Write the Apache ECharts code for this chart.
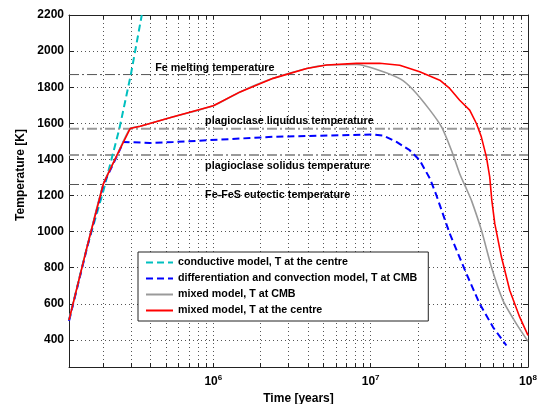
<!DOCTYPE html>
<html>
<head>
<meta charset="utf-8">
<script src="https://cdn.jsdelivr.net/npm/echarts@6/dist/echarts.min.js"></script>
<style>html,body{margin:0;padding:0;background:#fff}#chart{width:539px;height:404px}</style>
</head>
<body>
<div id="chart"></div>
<script>
// ---- data (time in years, temperature in K) ----
var conductiveTime = [1.21e5, 1.57e5, 2.0e5, 2.53e5, 2.99e5, 3.51e5];
var conductiveTemp = [510, 910, 1225, 1571, 1869, 2200];

var diffTime = [1.21e5, 1.57e5, 2.0e5, 2.44e5, 2.68e5, 3.96e5, 5.55e5, 9.08e5, 2.39e6, 6.38e6, 1.04e7, 1.2e7, 1.46e7, 1.77e7, 2.05e7, 2.38e7, 2.62e7, 3.18e7, 4.06e7, 4.93e7, 6.0e7, 7.29e7];
var diffTemp = [505, 905, 1262, 1418, 1497, 1491, 1496, 1506, 1525, 1534, 1538, 1532, 1497, 1451, 1395, 1294, 1200, 989, 767, 600, 470, 369];

var mixedCmbTime = [1.21e5, 1.57e5, 2.0e5, 2.44e5, 2.96e5, 3.43e5, 5.57e5, 1.0e6, 1.48e6, 2.4e6, 3.92e6, 5.25e6, 8.13e6, 1.14e7, 1.55e7, 1.86e7, 2.38e7, 2.82e7, 3.26e7, 3.68e7, 4.1e7, 4.37e7, 5.06e7, 5.86e7, 6.94e7, 8.44e7, 1e8];
var mixedCmbTemp = [510, 910, 1264, 1423, 1571, 1584, 1636, 1697, 1774, 1849, 1904, 1923, 1926, 1893, 1845, 1786, 1673, 1580, 1451, 1321, 1229, 1173, 1007, 803, 618, 489, 392];

var mixedCentreTime = [1.21e5, 1.57e5, 2.0e5, 2.44e5, 2.96e5, 3.43e5, 5.57e5, 1.0e6, 1.48e6, 2.4e6, 3.92e6, 5.25e6, 8.13e6, 1.14e7, 1.53e7, 2.05e7, 2.75e7, 3.18e7, 3.68e7, 4.26e7, 4.7e7, 5.05e7, 5.44e7, 5.71e7, 5.89e7, 6.15e7, 6.78e7, 7.66e7, 8.86e7, 1e8];
var mixedCentreTemp = [510, 910, 1264, 1423, 1571, 1584, 1636, 1697, 1774, 1849, 1904, 1923, 1932, 1933, 1922, 1885, 1839, 1793, 1728, 1673, 1599, 1525, 1414, 1303, 1173, 1044, 859, 674, 526, 425];

var seriesNames = [
  'conductive model, T at the centre',
  'differentiation and convection model, T at CMB',
  'mixed model, T at CMB',
  'mixed model, T at the centre'
];

// reference temperatures and their labels
var refTemps = [1870, 1570, 1425, 1261];
var refLabels = ['Fe melting temperature', 'plagioclase liquidus temperature', 'plagioclase solidus temperature', 'Fe-FeS eutectic temperature'];
var refLabelTime = [4.27e5, 8.86e5, 8.86e5, 8.86e5];
var refLabelTemp = [1909, 1615, 1362, 1201];

// axes
var xMin = 1.21e5, xMax = 1e8;
var yMin = 250, yMax = 2200;
var xMajorTicks = [1e6, 1e7, 1e8];
var xAllTicks = [2e5, 3e5, 4e5, 5e5, 6e5, 7e5, 8e5, 9e5, 1e6, 2e6, 3e6, 4e6, 5e6, 6e6, 7e6, 8e6, 9e6, 1e7, 2e7, 3e7, 4e7, 5e7, 6e7, 7e7, 8e7, 9e7, 1e8];
var yTicks = [400, 600, 800, 1000, 1200, 1400, 1600, 1800, 2000, 2200];

function zip(a, b) { return a.map(function (v, i) { return [v, b[i]]; }); }

var FONT = 'Liberation Sans, Arial, Helvetica, sans-serif';
var chart = echarts.init(document.getElementById('chart'), null, { renderer: 'canvas' });

var series = [];
// reference lines
var refStyles = [
  { color: '#555', width: 1 },
  { color: '#9a9a9a', width: 2 },
  { color: '#9a9a9a', width: 2 },
  { color: '#555', width: 1 }
];
refTemps.forEach(function (t, i) {
  series.push({
    type: 'line', name: 'ref' + i, silent: true, symbol: 'none', z: 1,
    data: [[xMin, t], [xMax, t]],
    lineStyle: { color: refStyles[i].color, width: refStyles[i].width, type: [10, 3, 2, 3] }
  });
});
series.push({
  type: 'scatter', name: 'refLabels', silent: true, symbolSize: 0, z: 5,
  itemStyle: { opacity: 1 },
  data: refLabels.map(function (s, i) { return { name: s, value: [refLabelTime[i], refLabelTemp[i]] }; }),
  label: { show: true, position: 'right', distance: 0, formatter: '{b}', color: '#000', opacity: 1, fontFamily: FONT, fontWeight: 'bold', fontSize: 10.8 }
});
series.push({
  type: 'line', name: seriesNames[0], symbol: 'none', z: 3,
  data: zip(conductiveTime, conductiveTemp),
  lineStyle: { color: '#00BFBF', width: 2, type: [7, 4] }, itemStyle: { color: '#00BFBF' }
});
series.push({
  type: 'line', name: seriesNames[1], symbol: 'none', z: 3,
  data: zip(diffTime, diffTemp),
  lineStyle: { color: '#0000FF', width: 2, type: [7, 4] }, itemStyle: { color: '#0000FF' }
});
series.push({
  type: 'line', name: seriesNames[2], symbol: 'none', z: 3, smooth: 0.2,
  data: zip(mixedCmbTime, mixedCmbTemp),
  lineStyle: { color: '#9a9a9a', width: 1.6 }, itemStyle: { color: '#9a9a9a' }
});
series.push({
  type: 'line', name: seriesNames[3], symbol: 'none', z: 4,
  data: zip(mixedCentreTime, mixedCentreTemp),
  lineStyle: { color: '#FF0000', width: 1.6 }, itemStyle: { color: '#FF0000' }
});

var gridLine = { show: true, lineStyle: { color: '#555', width: 1, type: [1, 3] } };

chart.setOption({
  animation: false,
  backgroundColor: '#fff',
  grid: { left: 69, top: 15, right: 11, bottom: 37, containLabel: false, outerBoundsMode: 'none' },
  legend: {
    data: seriesNames.map(function (n) { return { name: n, itemStyle: { opacity: 0 } }; }),
    orient: 'vertical',
    left: 138, top: 252,
    itemWidth: 27, itemHeight: 10, itemGap: 5,
    padding: [5, 11, 5, 7],
    backgroundColor: '#fff', borderColor: '#222', borderWidth: 1,
    textStyle: { color: '#000', fontFamily: FONT, fontWeight: 'bold', fontSize: 10.7 },
    selectedMode: false
  },
  xAxis: [{
    type: 'log', min: xMin, max: xMax, position: 'bottom',
    name: 'Time [years]', nameLocation: 'middle', nameGap: 19,
    nameTextStyle: { color: '#000', fontFamily: FONT, fontWeight: 'bold', fontSize: 12 },
    axisLine: { show: true, lineStyle: { color: '#222', width: 1 } },
    axisTick: { show: true, inside: true, length: 4, customValues: xAllTicks, lineStyle: { color: '#222' } },
    axisLabel: {
      show: true, customValues: xMajorTicks, margin: 7,
      formatter: function (v) { return '{b|10}{s|' + Math.round(Math.log10(v)) + '}'; },
      rich: {
        b: { fontFamily: FONT, fontWeight: 'bold', fontSize: 12, color: '#000' },
        s: { fontFamily: FONT, fontWeight: 'bold', fontSize: 8, color: '#000', padding: [0, 0, 7, 0] }
      }
    },
    splitLine: gridLine, minorTick: { show: false }
  }, {
    type: 'log', min: xMin, max: xMax, position: 'top',
    axisLine: { show: true, lineStyle: { color: '#222', width: 1 } },
    axisTick: { show: true, inside: true, length: 4, customValues: xAllTicks, lineStyle: { color: '#222' } },
    axisLabel: { show: false }, splitLine: { show: false }
  }],
  yAxis: [{
    type: 'value', min: yMin, max: yMax, position: 'left',
    name: 'Temperature [K]', nameLocation: 'middle', nameGap: 41,
    nameTextStyle: { color: '#000', fontFamily: FONT, fontWeight: 'bold', fontSize: 12, padding: [0, 0, 0, 32] },
    axisLine: { show: true, lineStyle: { color: '#222', width: 1 } },
    axisTick: { show: true, inside: true, length: 5, customValues: yTicks, lineStyle: { color: '#222' } },
    axisLabel: { show: true, customValues: yTicks, margin: 5, color: '#000', fontFamily: FONT, fontWeight: 'bold', fontSize: 12,
      formatter: function (v) { return String(v); } },
    splitLine: gridLine
  }, {
    type: 'value', min: yMin, max: yMax, position: 'right',
    axisLine: { show: true, lineStyle: { color: '#222', width: 1 } },
    axisTick: { show: true, inside: true, length: 5, customValues: yTicks, lineStyle: { color: '#222' } },
    axisLabel: { show: false }, splitLine: { show: false }
  }],
  series: series
});
</script>
</body>
</html>
